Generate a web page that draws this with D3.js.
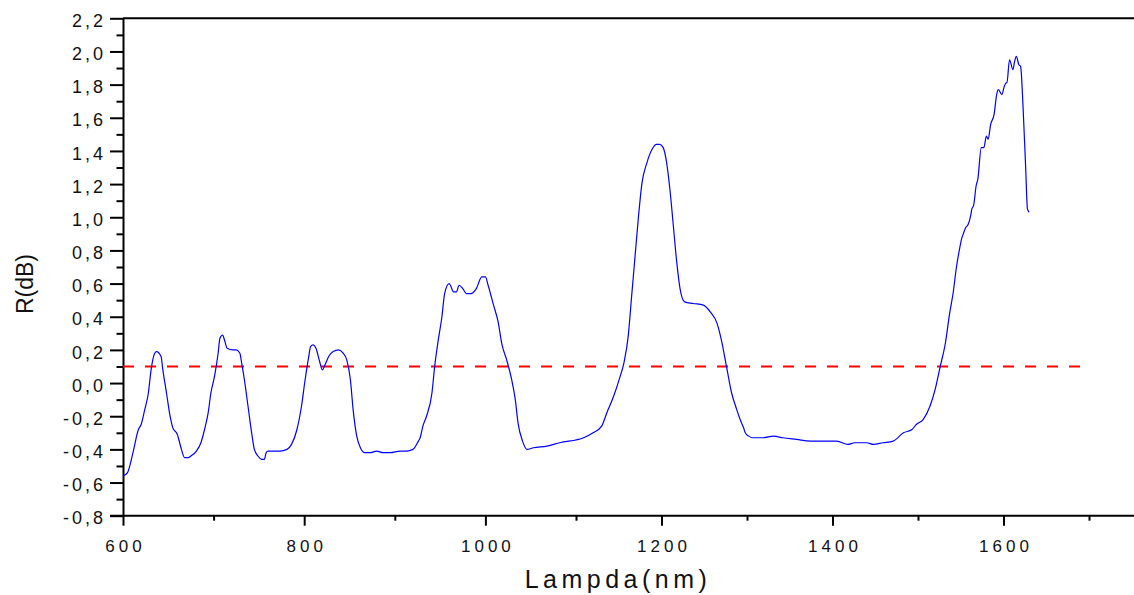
<!DOCTYPE html>
<html>
<head>
<meta charset="utf-8">
<script src="https://cdn.jsdelivr.net/npm/d3@7"></script>
<style>
  body { margin: 0; background: #fff; }
  svg text { font-family: "Liberation Sans", Arial, sans-serif; fill: #111; }
</style>
</head>
<body>
<svg id="plot"></svg>
<script>
// wavelength (nm) and reflectance (dB)
const wavelength = [600, 605, 611, 617, 620, 624, 628, 631, 635, 637, 642, 644, 648, 652, 655, 660, 664, 668, 672, 675,
    681, 686, 690, 694, 697, 701, 705, 707, 710, 712, 715, 721, 725, 729, 731, 734, 738, 742, 745, 749,
    753, 756, 758, 760, 771, 773, 781, 786, 792, 797, 801, 805, 807, 810, 813, 817, 820, 823, 827, 832,
    838, 843, 847, 851, 854, 858, 862, 867, 873, 880, 887, 895, 906, 913, 920, 926, 928, 931, 935, 941,
    944, 948, 952, 955, 960, 965, 968, 971, 975, 979, 984, 990, 996, 1000, 1003, 1009, 1014, 1018, 1024, 1029,
    1033, 1036, 1041, 1046, 1053, 1068, 1082, 1109, 1120, 1130, 1136, 1144, 1151, 1156, 1161, 1165, 1169, 1173, 1177, 1183,
    1189, 1194, 1198, 1202, 1206, 1210, 1214, 1218, 1222, 1227, 1237, 1249, 1257, 1265, 1270, 1276, 1282, 1288, 1292, 1296,
    1298, 1302, 1307, 1319, 1331, 1342, 1358, 1374, 1389, 1405, 1418, 1426, 1440, 1448, 1459, 1471, 1483, 1493, 1498, 1506,
    1514, 1520, 1526, 1532, 1537, 1541, 1545, 1549, 1551, 1553, 1556, 1558, 1562, 1563, 1565, 1568, 1570, 1574, 1577, 1580,
    1582, 1585, 1589, 1592, 1594, 1598, 1601, 1603, 1604, 1607, 1611, 1613, 1615, 1618, 1620, 1623, 1626, 1628, 1630];
const reflect = [-0.56, -0.54, -0.42, -0.28, -0.25, -0.16, -0.06, 0.08, 0.18, 0.19, 0.16, 0.08, -0.06, -0.20, -0.27, -0.31, -0.39, -0.45, -0.45, -0.44,
    -0.41, -0.36, -0.28, -0.18, -0.06, 0.04, 0.18, 0.27, 0.29, 0.26, 0.21, 0.20, 0.20, 0.18, 0.12, 0.02, -0.14, -0.30, -0.40, -0.44,
    -0.46, -0.46, -0.42, -0.41, -0.41, -0.41, -0.40, -0.37, -0.28, -0.14, 0.02, 0.16, 0.22, 0.23, 0.21, 0.13, 0.08, 0.11, 0.16, 0.19,
    0.20, 0.18, 0.14, 0.02, -0.16, -0.32, -0.39, -0.42, -0.42, -0.41, -0.42, -0.42, -0.41, -0.41, -0.40, -0.35, -0.33, -0.26, -0.20, -0.06,
    0.10, 0.26, 0.40, 0.54, 0.60, 0.55, 0.55, 0.59, 0.57, 0.54, 0.54, 0.57, 0.64, 0.64, 0.59, 0.47, 0.37, 0.24, 0.13, 0.02,
    -0.10, -0.24, -0.35, -0.40, -0.39, -0.38, -0.36, -0.33, -0.30, -0.26, -0.18, -0.08, 0.03, 0.12, 0.28, 0.52, 0.76, 1.00, 1.20, 1.33,
    1.41, 1.44, 1.44, 1.42, 1.33, 1.16, 0.94, 0.72, 0.56, 0.49, 0.48, 0.47, 0.43, 0.36, 0.26, 0.10, -0.06, -0.16, -0.22, -0.27,
    -0.30, -0.32, -0.33, -0.33, -0.32, -0.33, -0.34, -0.35, -0.35, -0.35, -0.37, -0.36, -0.36, -0.37, -0.36, -0.35, -0.30, -0.28, -0.25, -0.22,
    -0.14, -0.04, 0.10, 0.24, 0.42, 0.54, 0.70, 0.82, 0.87, 0.90, 0.94, 0.95, 1.02, 1.05, 1.07, 1.19, 1.23, 1.42, 1.42, 1.49,
    1.47, 1.56, 1.62, 1.74, 1.77, 1.74, 1.79, 1.81, 1.81, 1.95, 1.89, 1.94, 1.97, 1.92, 1.91, 1.65, 1.29, 1.05, 1.03];

// reference line
const threshold = 0.1;
const thresholdRange = [600, 1698];

// ticks
const xMajorTicks = [600, 800, 1000, 1200, 1400, 1600];
const xMinorTicks = [700, 900, 1100, 1300, 1500, 1700];
const yMajorTicks = [-0.8, -0.6, -0.4, -0.2, 0.0, 0.2, 0.4, 0.6, 0.8, 1.0, 1.2, 1.4, 1.6, 1.8, 2.0, 2.2];
const yMinorTicks = [-0.7, -0.5, -0.3, -0.1, 0.1, 0.3, 0.5, 0.7, 0.9, 1.1, 1.3, 1.5, 1.7, 1.9, 2.1];

const data = wavelength.map((w, i) => ({ w: w, r: reflect[i] }));

const svg = d3.select("#plot")
    .attr("width", 1134)
    .attr("height", 595);

// the original axis is slightly squeezed past 1100 nm
const x = d3.scaleLinear()
    .domain([600, 1100, 1700])
    .range([123, 576, 1089]);
const y = d3.scaleLinear()
    .domain([-0.8, 2.2])
    .range([515.7, 18.3]);

const fmt = d => d3.format(".1f")(d).replace(".", ",").replace("\u2212", "-");

// top frame line
svg.append("line")
    .attr("x1", x(600)).attr("x2", 1140)
    .attr("y1", y(2.2)).attr("y2", y(2.2))
    .attr("stroke", "#000").attr("stroke-width", 2);

// x axis
const xAxisMinor = svg.append("g")
    .attr("transform", `translate(0, ${y(-0.8)})`)
    .call(d3.axisBottom(x).tickValues(xMinorTicks).tickSize(5).tickFormat(""));
const xAxis = svg.append("g")
    .attr("transform", `translate(0, ${y(-0.8)})`)
    .call(d3.axisBottom(x).tickValues(xMajorTicks).tickSize(10).tickPadding(14)
        .tickFormat(d3.format("d")).tickSizeOuter(0));
xAxisMinor.select(".domain").remove();
xAxis.select(".domain").attr("d", `M110,0H1140`);

// y axis
const yAxisMinor = svg.append("g")
    .attr("transform", `translate(${x(600)}, 0)`)
    .call(d3.axisLeft(y).tickValues(yMinorTicks).tickSize(6.5).tickFormat(""));
const yAxis = svg.append("g")
    .attr("transform", `translate(${x(600)}, 0)`)
    .call(d3.axisLeft(y).tickValues(yMajorTicks).tickSize(13).tickPadding(7).tickFormat(fmt).tickSizeOuter(0));
yAxisMinor.select(".domain").remove();

svg.selectAll(".domain, .tick line")
    .attr("stroke", "#000")
    .attr("stroke-width", 2);

xAxis.selectAll(".tick text")
    .attr("font-size", 17)
    .attr("letter-spacing", 4)
    .attr("dx", 2)
    .attr("fill", "#111");
yAxis.selectAll(".tick text")
    .attr("font-size", 18)
    .attr("letter-spacing", 3)
    .attr("dx", 3)
    .attr("dy", "0.45em")
    .attr("fill", "#111");

// axis titles
svg.append("text")
    .attr("x", 618)
    .attr("y", 588)
    .attr("text-anchor", "middle")
    .attr("font-size", 25)
    .attr("letter-spacing", 4.5)
    .text("Lampda(nm)");
svg.append("text")
    .attr("transform", "translate(33, 284) rotate(-90)")
    .attr("text-anchor", "middle")
    .attr("font-size", 23)
    .text("R(dB)");

// dashed threshold
svg.append("line")
    .attr("x1", x(thresholdRange[0])).attr("x2", x(thresholdRange[1]))
    .attr("y1", y(threshold)).attr("y2", y(threshold))
    .attr("stroke", "#ff0000")
    .attr("stroke-width", 2)
    .attr("stroke-dasharray", "11,11");

// spectrum
const line = d3.line()
    .x(d => x(d.w))
    .y(d => y(d.r))
    .curve(d3.curveMonotoneX);

svg.append("path")
    .datum(data)
    .attr("fill", "none")
    .attr("stroke", "#0000ff")
    .attr("stroke-width", 1.2)
    .attr("d", line);
</script>
</body>
</html>
